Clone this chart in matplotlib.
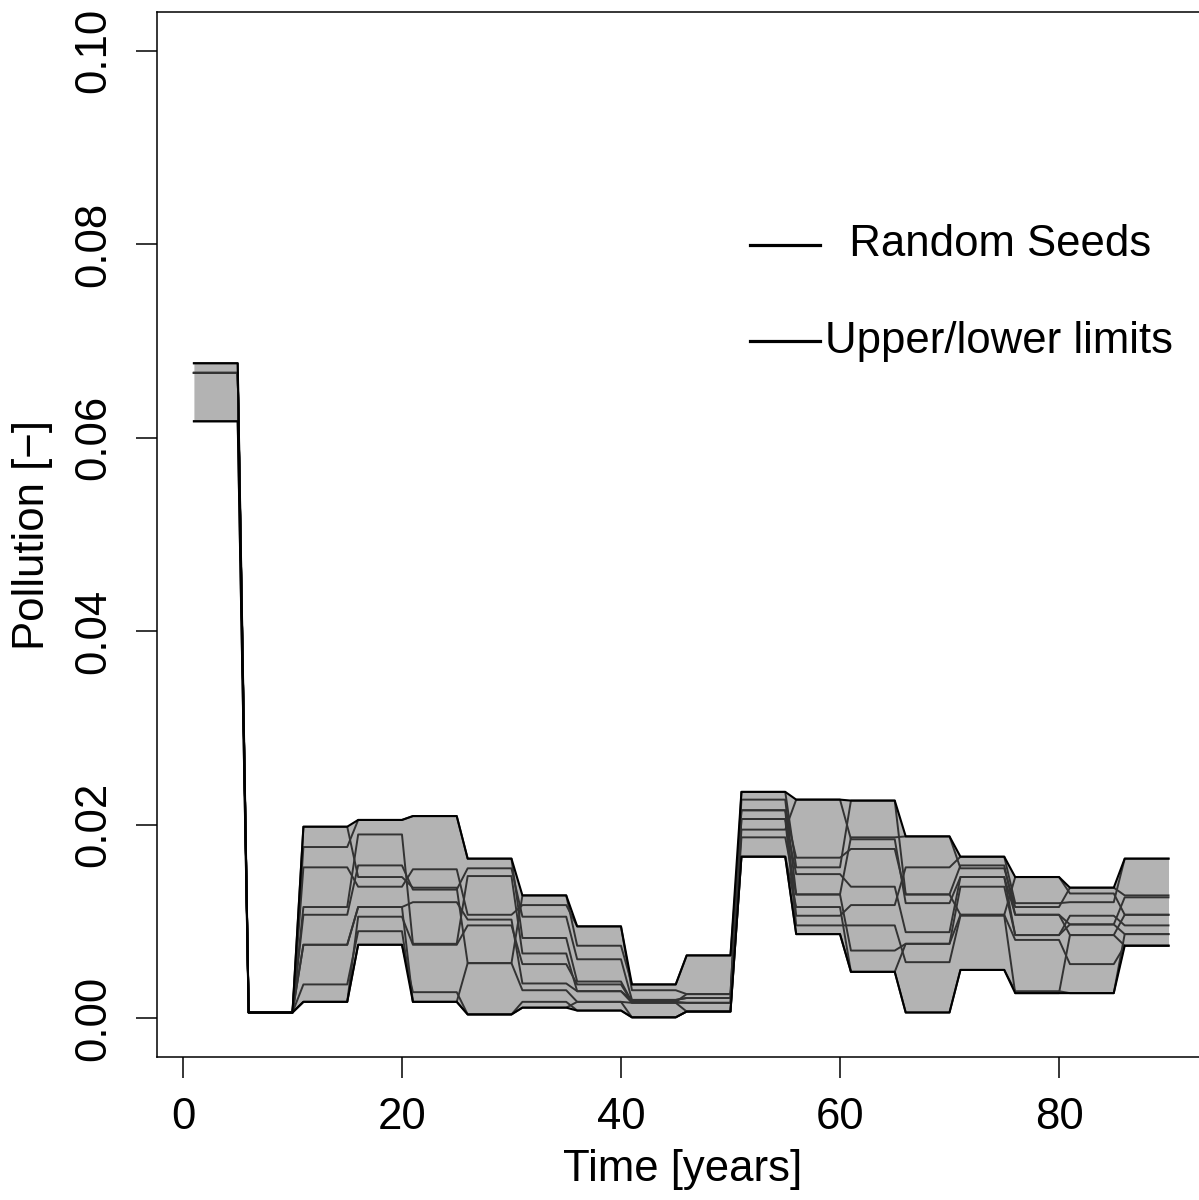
import numpy as np
import matplotlib
matplotlib.use("Agg")
import matplotlib.pyplot as plt
from matplotlib.lines import Line2D

plt.rcParams['font.family'] = ['Liberation Sans', 'DejaVu Sans']

# one value per 5-year block (years 1-5, 6-10, ..., 86-90)
seed_1 = [0.0677, 0.0006, 0.0115, 0.0190, 0.0077, 0.0147, 0.0067, 0.0028, 0.0019, 0.0021, 0.0195, 0.0226, 0.0185, 0.0119, 0.0146, 0.0107, 0.0086, 0.0107]
seed_2 = [0.0667, 0.0006, 0.0198, 0.0146, 0.0135, 0.0057, 0.0127, 0.0075, 0.0035, 0.0065, 0.0215, 0.0106, 0.0117, 0.0156, 0.0167, 0.0119, 0.0120, 0.0165]
seed_3 = [0.0667, 0.0006, 0.0076, 0.0115, 0.0017, 0.0004, 0.0011, 0.0017, 0.0001, 0.0007, 0.0167, 0.0087, 0.0048, 0.0006, 0.0050, 0.0028, 0.0026, 0.0087]
seed_4 = [0.0667, 0.0006, 0.0177, 0.0205, 0.0209, 0.0165, 0.0083, 0.0038, 0.0017, 0.0025, 0.0234, 0.0156, 0.0225, 0.0128, 0.0107, 0.0146, 0.0129, 0.0107]
seed_5 = [0.0667, 0.0006, 0.0017, 0.0076, 0.0027, 0.0004, 0.0017, 0.0008, 0.0001, 0.0007, 0.0167, 0.0115, 0.0048, 0.0077, 0.0107, 0.0081, 0.0056, 0.0075]
seed_6 = [0.0667, 0.0006, 0.0156, 0.0136, 0.0154, 0.0107, 0.0117, 0.0095, 0.0029, 0.0025, 0.0226, 0.0128, 0.0187, 0.0188, 0.0155, 0.0115, 0.0135, 0.0127]
seed_7 = [0.0667, 0.0006, 0.0035, 0.0090, 0.0017, 0.0057, 0.0029, 0.0017, 0.0016, 0.0007, 0.0206, 0.0096, 0.0096, 0.0058, 0.0106, 0.0026, 0.0086, 0.0075]
seed_8 = [0.0667, 0.0006, 0.0107, 0.0158, 0.0133, 0.0155, 0.0105, 0.0061, 0.0019, 0.0021, 0.0215, 0.0166, 0.0175, 0.0128, 0.0158, 0.0107, 0.0097, 0.0125]
seed_9 = [0.0667, 0.0006, 0.0017, 0.0105, 0.0076, 0.0096, 0.0056, 0.0035, 0.0017, 0.0016, 0.0187, 0.0128, 0.0070, 0.0077, 0.0136, 0.0086, 0.0097, 0.0087]
seed_10 = [0.0617, 0.0006, 0.0076, 0.0115, 0.0120, 0.0102, 0.0036, 0.0028, 0.0016, 0.0016, 0.0206, 0.0149, 0.0136, 0.0089, 0.0146, 0.0086, 0.0106, 0.0096]

seeds = [seed_1, seed_2, seed_3, seed_4, seed_5, seed_6, seed_7, seed_8, seed_9, seed_10]
block_len = 5
years = np.arange(1, 91)

x_ticks = [0, 20, 40, 60, 80]
y_ticks = [0.00, 0.02, 0.04, 0.06, 0.08, 0.10]
y_tick_labels = ['0.00', '0.02', '0.04', '0.06', '0.08', '0.10']

legend_labels = ['  Random Seeds', 'Upper/lower limits']

fs = 31.5
band_col = '#b3b3b3'
line_col = '#333333'

series = np.array([np.repeat(s, block_len) for s in seeds])
lower = series.min(axis=0)
upper = series.max(axis=0)

fig = plt.figure(figsize=(11.99, 12), dpi=100)
W, H = 1199, 1200
# axes box: left 157px, top 12px, bottom 1057px, right edge off the picture
ax = fig.add_axes([157 / W, 1 - 1057 / H, (1207.5 - 157) / W, (1057 - 12) / H])

ax.fill_between(years, lower, upper, color=band_col, lw=0)
for s in series:
    ax.plot(years, s, color=line_col, lw=1.4)
ax.plot(years, lower, color='black', lw=1.5)
ax.plot(years, upper, color='black', lw=1.5)

ax.set_xlim(-2.37, 93.56)
ax.set_ylim(-0.004, 0.104)
ax.set_xticks(x_ticks)
ax.set_xticklabels([str(t) for t in x_ticks])
ax.set_yticks(y_ticks)
ax.set_yticklabels(y_tick_labels, rotation=90, va='center')
ax.tick_params(axis='both', direction='out', length=15, width=1.1, labelsize=fs)
ax.tick_params(axis='x', pad=14)
ax.tick_params(axis='y', pad=16)
for sp in ax.spines.values():
    sp.set_linewidth(1.1)
ax.spines['right'].set_visible(False)

ax.set_xlabel('Time [years]', fontsize=fs, labelpad=8)
ax.set_ylabel('Pollution [\u2212]', fontsize=fs, labelpad=14)

# legend drawn by hand, no box
leg_y = [245, 341]
for y, lab in zip(leg_y, legend_labels):
    fig.add_artist(Line2D([750 / W, 820 / W], [1 - y / H, 1 - y / H], color='black', lw=2.3))
    fig.text(825 / W, 1 - y / H, lab, fontsize=fs, ha='left', va='center')

plt.savefig('out.png', dpi=100)
